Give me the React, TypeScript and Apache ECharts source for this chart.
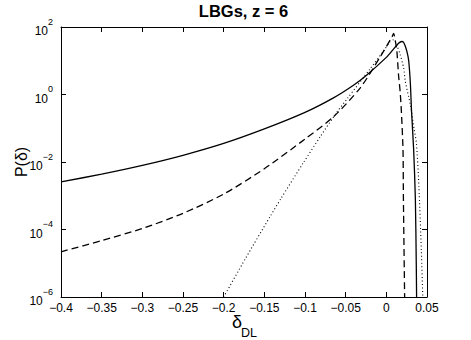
import React, { useEffect, useRef } from "react";
import * as echarts from "echarts";

// Solid curve
const solidX = [-0.4, -0.35, -0.3, -0.25, -0.2, -0.15, -0.1, -0.065, -0.04, -0.024, 0, 0.008, 0.015, 0.019, 0.021, 0.023, 0.0255, 0.0275, 0.0295, 0.031, 0.0336, 0.0357, 0.0368, 0.0372];
const solidP = [2.57e-3, 4.37e-3, 7.94e-3, 1.58e-2, 3.55e-2, 9.55e-2, 0.295, 0.794, 1.91, 3.8, 12.6, 21.0, 33.1, 37.2, 35.5, 28.2, 18.0, 10, 2.24, 0.316, 2.29e-2, 7.94e-4, 1e-5, 1e-6];

// Dashed curve
const dashedX = [-0.4, -0.35, -0.3, -0.25, -0.2, -0.15, -0.1, -0.065, -0.032, -0.0074, 0.007, 0.009, 0.011, 0.013, 0.015, 0.017, 0.0185, 0.0205, 0.021, 0.0225];
const dashedP = [2.19e-5, 4.68e-5, 1.07e-4, 3.02e-4, 1.12e-3, 6.31e-3, 4.79e-2, 0.219, 1.58, 13.2, 51.3, 64.6, 39.8, 18.6, 3.8, 1.2, 0.316, 2.29e-2, 7.94e-4, 1e-6];

// Dotted curve
const dottedX = [-0.2, -0.173, -0.143, -0.13, -0.102, -0.081, -0.061, -0.048, -0.02, -0.003, 0.004, 0.009, 0.013, 0.0172, 0.0213, 0.0234, 0.0295, 0.034, 0.037, 0.04, 0.043, 0.0448];
const dottedP = [1e-6, 1.41e-5, 2.4e-4, 7.94e-4, 9.55e-3, 5.75e-2, 0.295, 0.759, 5.75, 20.0, 35.5, 41.7, 28.2, 14.8, 6.03, 2.4, 0.501, 0.1, 3.55e-2, 2.0e-3, 2.51e-5, 1e-6];

// Tick labels
const xTickLabels = ["−0.4", "−0.35", "−0.3", "−0.25", "−0.2", "−0.15", "−0.1", "−0.05", "0", "0.05"];
const yTickExponents = ["−6", "−4", "−2", "0", "2"];

const FONT = "'Liberation Sans', Arial, Helvetica, sans-serif";

function pairs(xs: number[], ys: number[]) {
  return xs.map((x, i) => [x, ys[i]]);
}

export default function App() {
  const ref = useRef<HTMLDivElement>(null);
  useEffect(() => {
    if (!ref.current) return;
    const chart = echarts.init(ref.current, undefined, { renderer: "svg" });
    const xBase = {
      type: "value" as const,
      min: -0.4,
      max: 0.05,
      interval: 0.05,
      splitLine: { show: false },
      axisLine: { show: true, onZero: false, lineStyle: { color: "#000", width: 1 } },
      axisTick: { show: true, inside: true, length: 5, lineStyle: { color: "#000" } },
    };
    const yBase = {
      type: "log" as const,
      logBase: 10,
      min: 1e-6,
      max: 100,
      interval: 2,
      splitNumber: 4,
      splitLine: { show: false },
      axisLine: { show: true, onZero: false, lineStyle: { color: "#000", width: 1 } },
      axisTick: { show: true, inside: true, length: 5, lineStyle: { color: "#000" } },
      minorTick: { show: false },
    };
    chart.setOption({
      animation: false,
      backgroundColor: "#fff",
      grid: { left: 61, right: 44, top: 27, bottom: 43, containLabel: false },
      xAxis: [
        {
          ...xBase,
          position: "bottom",
          axisLabel: {
            show: true,
            margin: 5,
            color: "#000",
            fontSize: 12,
            fontFamily: FONT,
            formatter: (v: number) => {
              const i = Math.round((v + 0.4) / 0.05);
              return xTickLabels[i] ?? "";
            },
          },
        },
        { ...xBase, position: "top", axisLabel: { show: false } },
      ],
      yAxis: [
        {
          ...yBase,
          position: "left",
          axisLabel: {
            show: true,
            margin: 8,
            color: "#000",
            fontFamily: FONT,
            formatter: (v: number) => {
              const i = Math.round((Math.log10(v) + 6) / 2);
              return "{b|10}{s|" + (yTickExponents[i] ?? "") + "}";
            },
            rich: {
              b: { fontSize: 12, lineHeight: 20, verticalAlign: "bottom", color: "#000", fontFamily: FONT },
              s: { fontSize: 9, lineHeight: 10, verticalAlign: "top", color: "#000", fontFamily: FONT },
            },
          },
        },
        { ...yBase, position: "right", axisLabel: { show: false } },
      ],
      graphic: [
        {
          type: "text",
          x: 243.5,
          y: 11,
          style: {
            text: "LBGs, z = 6",
            fontSize: 16.5,
            fontWeight: "bold",
            fontFamily: FONT,
            fill: "#000",
            align: "center",
            verticalAlign: "middle",
          },
        },
        {
          type: "text",
          x: 21,
          y: 162,
          rotation: Math.PI / 2,
          style: {
            text: "P(δ)",
            fontSize: 16,
            fontFamily: FONT,
            fill: "#000",
            align: "center",
            verticalAlign: "middle",
          },
        },
        {
          type: "text",
          x: 237,
          y: 322,
          style: {
            text: "δ",
            fontSize: 18,
            fontFamily: FONT,
            fill: "#000",
            align: "center",
            verticalAlign: "middle",
          },
        },
        {
          type: "text",
          x: 241,
          y: 332.5,
          style: {
            text: "DL",
            fontSize: 12.5,
            fontFamily: FONT,
            fill: "#000",
            align: "left",
            verticalAlign: "middle",
          },
        },
      ],
      series: [
        {
          type: "line",
          name: "solid",
          data: pairs(solidX, solidP),
          showSymbol: false,
          smooth: 0.25,
          clip: true,
          lineStyle: { color: "#000", width: 1.3, type: "solid" },
        },
        {
          type: "line",
          name: "dashed",
          data: pairs(dashedX, dashedP),
          showSymbol: false,
          smooth: 0.25,
          clip: true,
          lineStyle: { color: "#000", width: 1.3, type: [7, 4] },
        },
        {
          type: "line",
          name: "dotted",
          data: pairs(dottedX, dottedP),
          showSymbol: false,
          smooth: 0.25,
          clip: true,
          lineStyle: { color: "#000", width: 1.1, type: [1, 2.5] },
        },
      ],
    });
    return () => chart.dispose();
  }, []);
  return <div ref={ref} style={{ width: 471, height: 340, position: "absolute", left: 0, top: 0 }} />;
}
